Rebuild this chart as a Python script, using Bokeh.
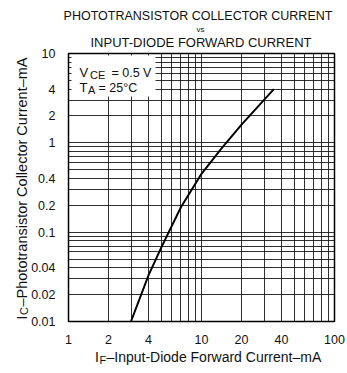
import math
from bokeh.plotting import figure
from bokeh.models import FixedTicker, CustomJSTickFormatter, Label, BoxAnnotation
from bokeh.embed import file_html
from bokeh.resources import INLINE

# ---- data ----
i_f = [2.95, 4, 5, 7, 10, 14, 20, 35]          # input-diode forward current, mA
i_c = [0.01, 0.033, 0.068, 0.19, 0.45, 0.85, 1.6, 4.0]  # phototransistor collector current, mA

x_tick_labels = [1, 2, 4, 10, 20, 40, 100]
y_tick_labels = [0.01, 0.02, 0.04, 0.1, 0.2, 0.4, 1, 2, 4, 10]
x_grid = [1, 2, 3, 4, 5, 6, 7, 8, 9, 10, 20, 30, 40, 50, 60, 70, 80, 90, 100]
y_grid = [0.01, 0.02, 0.03, 0.04, 0.05, 0.06, 0.07, 0.08, 0.09,
          0.1, 0.2, 0.3, 0.4, 0.5, 0.6, 0.7, 0.8, 0.9,
          1, 2, 3, 4, 5, 6, 7, 8, 9, 10]

FONT = "Liberation Sans"
INK = "#111111"

# layout: reference geometry shifted slightly so everything fits the canvas
OX, OY = -6, -3
FL, FR, FT, FB = 68 + OX, 334 + OX, 56 + OY, 324 + OY


def dx(px):
    return 10 ** (2.0 * (px + OX - FL) / (FR - FL))


def dy(py):
    return 10 ** (-2 + 3.0 * (FB - (py + OY)) / (FB - FT))


p = figure(x_axis_type="log", y_axis_type="log",
           x_range=(1, 100), y_range=(0.01, 10),
           frame_width=FR - FL, frame_height=FB - FT,
           min_border_left=FL, min_border_right=11,
           min_border_top=FT, min_border_bottom=365 - FB,
           output_backend="svg", toolbar_location=None,
           background_fill_color="white", border_fill_color="white")

p.outline_line_color = "black"
p.outline_line_width = 1.5

for ax in (p.xaxis[0], p.yaxis[0]):
    ax.axis_line_color = None
    ax.major_tick_line_color = None
    ax.minor_tick_line_color = None
    ax.major_label_text_font = FONT
    ax.major_label_text_font_size = "12.5px"
    ax.major_label_text_color = INK
    ax.formatter = CustomJSTickFormatter(code="return tick.toString();")

p.xaxis[0].ticker = FixedTicker(ticks=x_tick_labels)
p.yaxis[0].ticker = FixedTicker(ticks=y_tick_labels)
p.xaxis[0].major_label_standoff = 7
p.yaxis[0].major_label_standoff = 7

p.xgrid.ticker = FixedTicker(ticks=x_grid)
p.ygrid.ticker = FixedTicker(ticks=y_grid)
for g in (p.xgrid[0], p.ygrid[0]):
    g.grid_line_color = "#1a1a1a"
    g.grid_line_alpha = 0.9
    g.grid_line_width = 1

p.line(i_f, i_c, line_color="black", line_width=2)

# white box behind the condition text
p.add_layout(BoxAnnotation(left=dx(71), right=dx(155), top=dy(58), bottom=dy(99),
                           fill_color="white", fill_alpha=1.0, line_color=None))


def lab(text, px, py, size, align="left", angle=0.0, place="center"):
    # texts outside the frame go into side panels (positions stay in data units)
    p.add_layout(Label(x=dx(px), y=dy(py), text=text, text_font=FONT,
                       text_font_size=size, text_color=INK, text_align=align,
                       text_baseline="alphabetic", angle=angle), place)


ang = math.pi / 2

# titles
lab("PHOTOTRANSISTOR COLLECTOR CURRENT", 197.5, 18.5, "12.5px", "center", place="above")
lab("vs", 200, 31.5, "8px", "center", place="below")
lab("INPUT-DIODE FORWARD CURRENT", 200.5, 44.5, "13px", "center", place="above")

# conditions (inside the frame)
lab("V", 79, 75, "13px")
lab("CE", 89.5, 77.5, "11px")
lab("= 0.5 V", 111, 75, "12.5px")
lab("T", 79, 90, "13px")
lab("A", 87.5, 92.5, "11px")
lab("= 25°C", 98, 90, "12.5px")

# x axis label
lab("I", 94.5, 359, "14px", place="right")
lab("F", 99, 362, "11px", place="right")
lab("\u2013Input-Diode Forward Current\u2013mA", 106, 359, "14px", place="above")

# y axis label (rotated)
lab("I", 21, 322, "14px", angle=ang, place="above")
lab("C", 23.5, 317.5, "11px", angle=ang, place="left")
lab("\u2013Phototransistor Collector Current\u2013mA", 21, 309, "14.5px", angle=ang, place="left")

open("out.html", "w").write(file_html(p, INLINE))
